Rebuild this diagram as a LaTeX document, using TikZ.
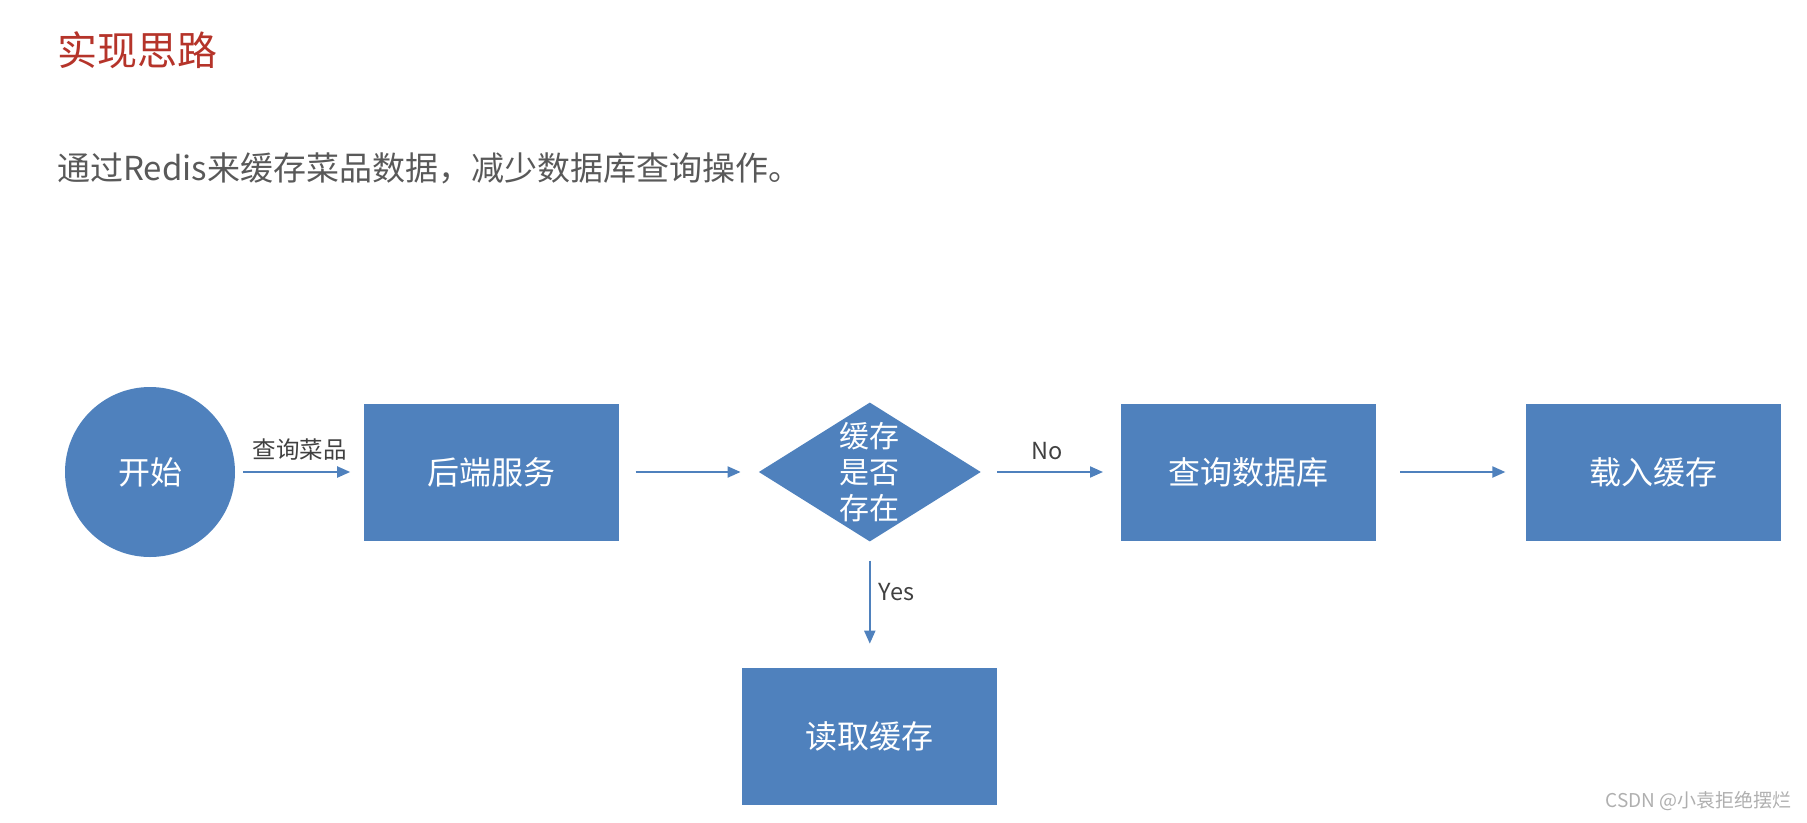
\documentclass[tikz,border=0pt]{standalone}
\usepackage{fontspec}
\setmainfont{Noto Sans CJK SC}
\usetikzlibrary{arrows.meta,shapes.geometric,positioning}

\definecolor{boxblue}{RGB}{79,129,189}
\definecolor{titlered}{RGB}{181,52,42}
\definecolor{introgray}{RGB}{89,89,89}
\definecolor{lblgray}{RGB}{64,64,64}
\definecolor{markgray}{RGB}{175,175,175}

\begin{document}
\begin{tikzpicture}[x=1pt,y=-1pt,>={Triangle[length=13pt,width=11pt]},auto,
        block/.style={rectangle,fill=boxblue,text=white,inner sep=0pt,
          minimum width=255pt,minimum height=137pt,font=\fontsize{32}{38}\selectfont},
        startnode/.style={circle,fill=boxblue,text=white,inner sep=0pt,
          minimum size=170pt,font=\fontsize{32}{38}\selectfont},
        decision/.style={diamond,fill=boxblue,inner sep=0pt,
          minimum width=222pt,minimum height=139pt},
        flow/.style={->,draw=boxblue,line width=2pt,shorten >=18pt,shorten <=16pt},
        lbl/.style={text=lblgray,inner sep=11pt,font=\fontsize{23.5}{28}\selectfont}]
  \useasboundingbox (0,0) rectangle (1807,822);

  \node[anchor=west,inner sep=0pt,text=titlered,font=\fontsize{40}{48}\selectfont]
    (title) at (57,50) {实现思路};
  \node[anchor=west,inner sep=0pt,text=introgray,font=\fontsize{33}{40}\selectfont]
    (intro) at (57,168) {通过Redis来缓存菜品数据，减少数据库查询操作。};

  \node[startnode] (start) at (150,472) {开始};
  \node[block] (backend) [right=129pt of start] {后端服务};
  \node[decision] (check) [right=139pt of backend]
    [label={[text=white,align=center,font=\fontsize{30}{36}\selectfont]center:缓存\\是否\\存在}] {};
  \node[block] (querydb) [right=140pt of check] {查询数据库};
  \node[block] (loadcache) [right=149pt of querydb] {载入缓存};
  \node[block] (readcache) [below=126pt of check] {读取缓存};

  \path (start) edge[flow,shorten <=8pt,shorten >=14pt] node[lbl] {查询菜品} (backend)
        (backend) edge[flow] (check)
        (check) edge[flow] node[lbl,pos=0.47] {No} (querydb)
        (querydb) edge[flow,shorten <=24pt,shorten >=20pt] (loadcache)
        (check) edge[flow,shorten <=19pt,shorten >=24pt] node[lbl,pos=0.4,inner sep=8pt] {Yes} (readcache);

  \node[anchor=east,inner sep=0pt,text=markgray,font=\fontsize{19}{23}\selectfont]
    (mark) at (1792,801) {CSDN @小袁拒绝摆烂};
\end{tikzpicture}
\end{document}
